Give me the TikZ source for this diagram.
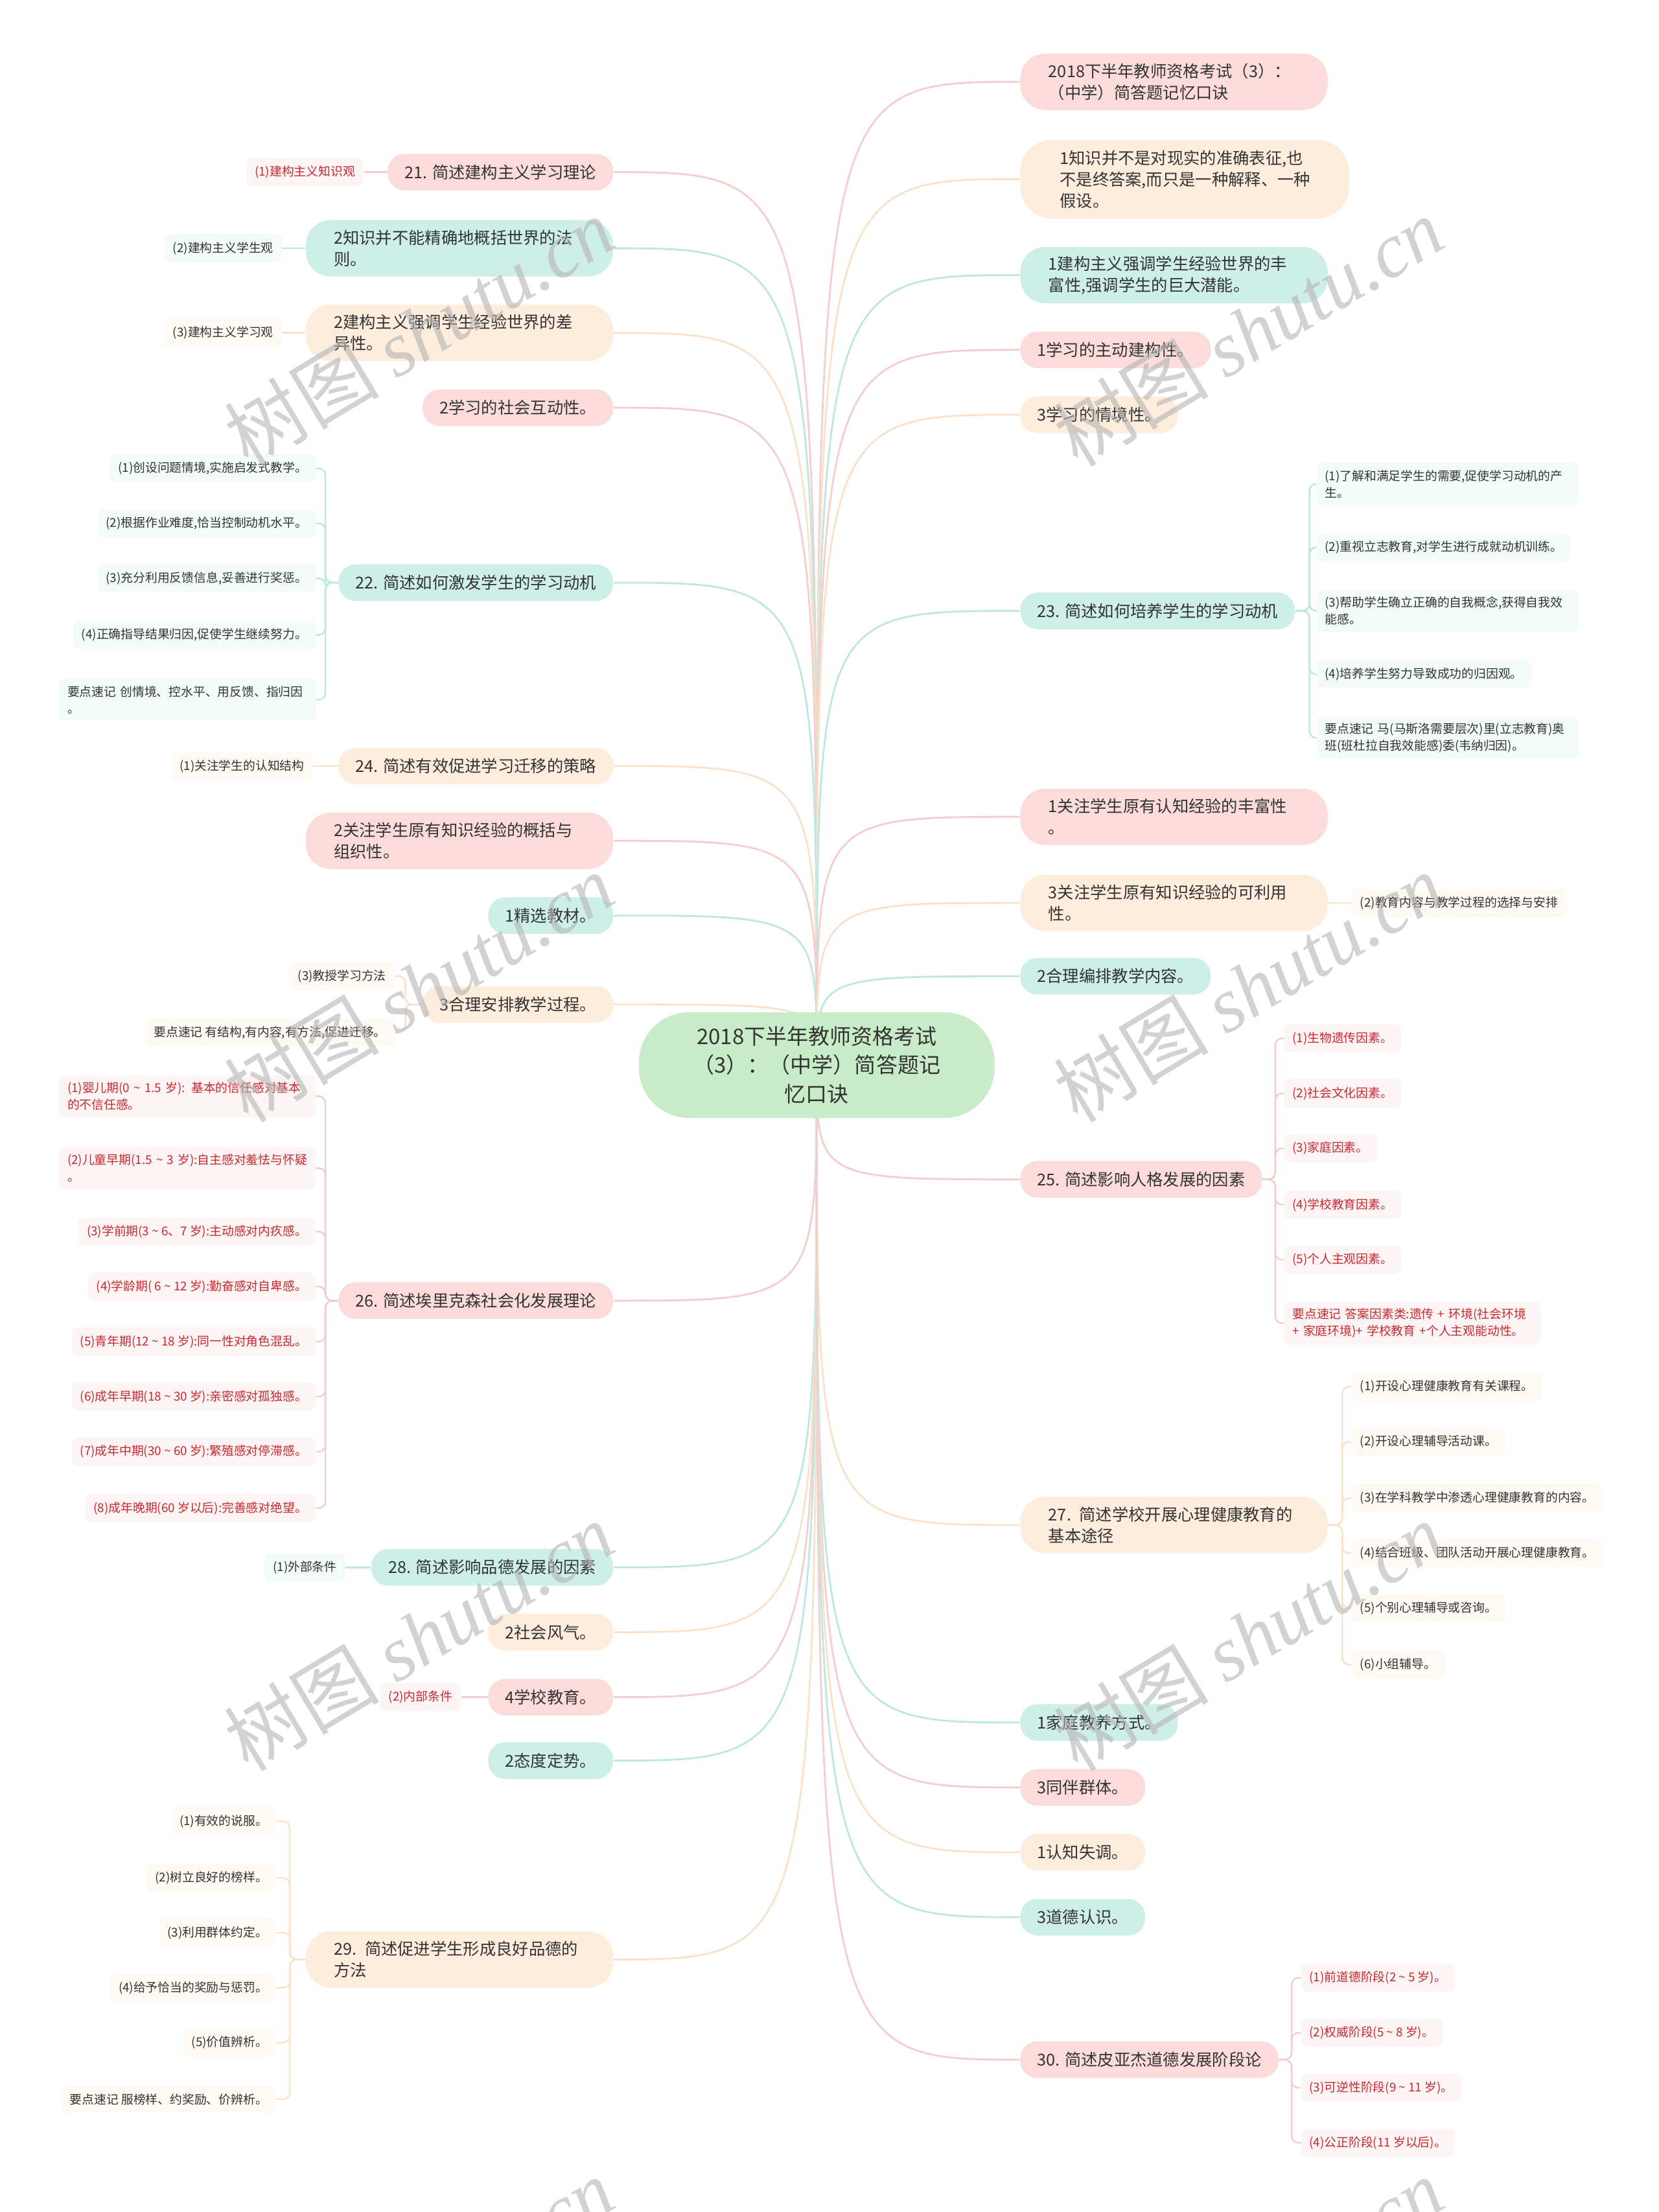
\documentclass[tikz,border=0pt]{standalone}
\usepackage{fontspec}
\setmainfont{Noto Sans CJK SC}
\newfontfamily\marcalatin{Liberation Serif}
\usetikzlibrary{backgrounds}

\definecolor{raiz}{HTML}{C8ECC8}
\definecolor{rosa}{HTML}{FBDCDB}
\definecolor{rosaline}{HTML}{F6CDCD}
\definecolor{rosaleaf}{HTML}{FDF5F5}
\definecolor{verde}{HTML}{CDEFE8}
\definecolor{verdeline}{HTML}{BCE8DF}
\definecolor{verdeleaf}{HTML}{F3FBF9}
\definecolor{melon}{HTML}{FEEDDD}
\definecolor{melonline}{HTML}{FAE2CA}
\definecolor{melonleaf}{HTML}{FEF9F3}
\definecolor{texto}{HTML}{333333}
\definecolor{rojo}{HTML}{C8282E}
\definecolor{marca}{HTML}{B4B4B4}

\newcommand\ola{\textasciitilde}

\begin{document}
\begin{tikzpicture}[
    x=0.02177cm, y=-0.02177cm,
    every node/.style={text=texto},
    root_node/.style={fill=raiz, rounded corners=22pt, minimum width=5.49cm, minimum height=1.63cm, align=center, font=\fontsize{9.4}{12.7}\selectfont},
    branch/.style={rounded corners=7.5pt, inner xsep=0.261cm, inner ysep=0pt, minimum height=0.566cm, font=\fontsize{7.2}{9.4}\selectfont},
    two_lines/.style={rounded corners=11pt, align=left, text width=3.875cm, inner xsep=0.435cm, minimum height=0.871cm},
    br_pink/.style={branch, fill=rosa},
    br_teal/.style={branch, fill=verde},
    br_peach/.style={branch, fill=melon},
    leaf/.style={rounded corners=2.5pt, inner xsep=0.13cm, inner ysep=0pt, minimum height=0.435cm, font=\fontsize{5.35}{7.4}\selectfont},
    leaf_two/.style={align=left, text width=3.70cm, minimum height=0.653cm},
    lf_pink/.style={leaf, fill=rosaleaf},
    lf_teal/.style={leaf, fill=verdeleaf},
    lf_peach/.style={leaf, fill=melonleaf},
    red_text/.style={text=rojo},
    conn/.style={line width=0.8pt},
    twig/.style={line width=0.7pt, rounded corners=3pt},
    water_mark/.style={text=marca, opacity=0.6, rotate=31, font=\fontsize{34}{34}\selectfont}
]
\useasboundingbox (0,0) rectangle (1176,1568);
\clip (0,0) rectangle (1176,1568);

% --- Nodo central ---
\node[root_node] (root) at (579,755) {2018下半年教师资格考试\\（3）：（中学）简答题记\\忆口诀};

% --- Ramas izquierdas ---
\node[br_pink, anchor=east] (L1) at (435,122) {21. 简述建构主义学习理论};
\node[br_teal, two_lines, anchor=east] (L2) at (435,176) {2知识并不能精确地概括世界的法\\则。};
\node[br_peach, two_lines, anchor=east] (L3) at (435,236) {2建构主义强调学生经验世界的差\\异性。};
\node[br_pink, anchor=east] (L4) at (435,289) {2学习的社会互动性。};
\node[br_teal, anchor=east] (L5) at (435,413) {22. 简述如何激发学生的学习动机};
\node[br_peach, anchor=east] (L6) at (435,543) {24. 简述有效促进学习迁移的策略};
\node[br_pink, two_lines, anchor=east] (L7) at (435,596) {2关注学生原有知识经验的概括与\\组织性。};
\node[br_teal, anchor=east] (L8) at (435,649) {1精选教材。};
\node[br_peach, anchor=east] (L9) at (435,712) {3合理安排教学过程。};
\node[br_pink, anchor=east] (L10) at (435,922) {26. 简述埃里克森社会化发展理论};
\node[br_teal, anchor=east] (L11) at (435,1111) {28. 简述影响品德发展的因素};
\node[br_peach, anchor=east] (L12) at (435,1157) {2社会风气。};
\node[br_pink, anchor=east] (L13) at (435,1203) {4学校教育。};
\node[br_teal, anchor=east] (L14) at (435,1248) {2态度定势。};
\node[br_peach, two_lines, anchor=east] (L15) at (435,1389) {29. 简述促进学生形成良好品德的\\方法};

% --- Ramas derechas ---
\node[br_pink, two_lines, anchor=west] (R1) at (723,58) {2018下半年教师资格考试（3）：\\（中学）简答题记忆口诀};
\node[br_peach, two_lines, anchor=west, rounded corners=14pt, inner xsep=0.61cm, text width=3.853cm, minimum height=1.219cm] (R2) at (723,127) {1知识并不是对现实的准确表征,也\\不是终答案,而只是一种解释、一种\\假设。};
\node[br_teal, two_lines, anchor=west] (R3) at (723,195) {1建构主义强调学生经验世界的丰\\富性,强调学生的巨大潜能。};
\node[br_pink, anchor=west] (R4) at (723,248) {1学习的主动建构性。};
\node[br_peach, anchor=west] (R5) at (723,294) {3学习的情境性。};
\node[br_teal, anchor=west] (R6) at (723,433) {23. 简述如何培养学生的学习动机};
\node[br_pink, two_lines, anchor=west] (R7) at (723,579) {1关注学生原有认知经验的丰富性\\。};
\node[br_peach, two_lines, anchor=west] (R8) at (723,640) {3关注学生原有知识经验的可利用\\性。};
\node[br_teal, anchor=west] (R9) at (723,692) {2合理编排教学内容。};
\node[br_pink, anchor=west] (R10) at (723,836) {25. 简述影响人格发展的因素};
\node[br_peach, two_lines, anchor=west] (R11) at (723,1081) {27. 简述学校开展心理健康教育的\\基本途径};
\node[br_teal, anchor=west] (R12) at (723,1221) {1家庭教养方式。};
\node[br_pink, anchor=west] (R13) at (723,1267) {3同伴群体。};
\node[br_peach, anchor=west] (R14) at (723,1313) {1认知失调。};
\node[br_teal, anchor=west] (R15) at (723,1359) {3道德认识。};
\node[br_pink, anchor=west] (R16) at (723,1460) {30. 简述皮亚杰道德发展阶段论};

% --- Hojas izquierdas ---
\node[lf_pink, red_text, anchor=east] (L1a) at (258,122) {(1)建构主义知识观};
\node[lf_teal, anchor=east] (L2a) at (200,176) {(2)建构主义学生观};
\node[lf_peach, anchor=east] (L3a) at (200,236) {(3)建构主义学习观};

\node[lf_teal, anchor=east] (L5a) at (224,332) {(1)创设问题情境,实施启发式教学。};
\node[lf_teal, anchor=east] (L5b) at (224,371) {(2)根据作业难度,恰当控制动机水平。};
\node[lf_teal, anchor=east] (L5c) at (224,410) {(3)充分利用反馈信息,妥善进行奖惩。};
\node[lf_teal, anchor=east] (L5d) at (224,450) {(4)正确指导结果归因,促使学生继续努力。};
\node[lf_teal, leaf_two, anchor=east] (L5e) at (224,496) {\mbox{要点速记 创情境、控水平、用反馈、指归因}\\。};

\node[lf_peach, anchor=east] (L6a) at (222,543) {(1)关注学生的认知结构};

\node[lf_peach, anchor=east] (L9a) at (280,692) {(3)教授学习方法};
\node[lf_peach, anchor=east] (L9b) at (280,732) {要点速记 有结构,有内容,有方法,促进迁移。};

\node[lf_pink, red_text, leaf_two, anchor=east] (L10a) at (224,777) {\mbox{(1)婴儿期(0 \ola{} 1.5 岁): 基本的信任感对基本}\\的不信任感。};
\node[lf_pink, red_text, leaf_two, anchor=east] (L10b) at (224,828) {\mbox{(2)儿童早期(1.5 \ola{} 3 岁):自主感对羞怯与怀疑}\\。};
\node[lf_pink, red_text, anchor=east] (L10c) at (224,873) {(3)学前期(3 \ola{} 6、7 岁):主动感对内疚感。};
\node[lf_pink, red_text, anchor=east] (L10d) at (224,912) {(4)学龄期( 6 \ola{} 12 岁):勤奋感对自卑感。};
\node[lf_pink, red_text, anchor=east] (L10e) at (224,951) {(5)青年期(12 \ola{} 18 岁):同一性对角色混乱。};
\node[lf_pink, red_text, anchor=east] (L10f) at (224,990) {(6)成年早期(18 \ola{} 30 岁):亲密感对孤独感。};
\node[lf_pink, red_text, anchor=east] (L10g) at (224,1029) {(7)成年中期(30 \ola{} 60 岁):繁殖感对停滞感。};
\node[lf_pink, red_text, anchor=east] (L10h) at (224,1069) {(8)成年晚期(60 岁以后):完善感对绝望。};

\node[lf_teal, anchor=east] (L11a) at (245,1111) {(1)外部条件};
\node[lf_pink, red_text, anchor=east] (L13a) at (327,1203) {(2)内部条件};

\node[lf_peach, anchor=east] (L15a) at (196,1291) {(1)有效的说服。};
\node[lf_peach, anchor=east] (L15b) at (196,1331) {(2)树立良好的榜样。};
\node[lf_peach, anchor=east] (L15c) at (196,1370) {(3)利用群体约定。};
\node[lf_peach, anchor=east] (L15d) at (196,1409) {(4)给予恰当的奖励与惩罚。};
\node[lf_peach, anchor=east] (L15e) at (196,1448) {(5)价值辨析。};
\node[lf_peach, anchor=east] (L15f) at (196,1488) {要点速记 服榜样、约奖励、价辨析。};

% --- Hojas derechas ---
\node[lf_teal, leaf_two, text width=3.79cm, anchor=west] (R6a) at (933,343) {\mbox{(1)了解和满足学生的需要,促使学习动机的产}\\生。};
\node[lf_teal, anchor=west] (R6b) at (933,388) {(2)重视立志教育,对学生进行成就动机训练。};
\node[lf_teal, leaf_two, text width=3.79cm, anchor=west] (R6c) at (933,433) {\mbox{(3)帮助学生确立正确的自我概念,获得自我效}\\能感。};
\node[lf_teal, anchor=west] (R6d) at (933,478) {(4)培养学生努力导致成功的归因观。};
\node[lf_teal, leaf_two, text width=3.79cm, anchor=west] (R6e) at (933,523) {\mbox{要点速记 马(马斯洛需要层次)里(立志教育)奥}\\班(班杜拉自我效能感)委(韦纳归因)。};

\node[lf_peach, anchor=west] (R8a) at (958,640) {(2)教育内容与教学过程的选择与安排};

\node[lf_pink, red_text, anchor=west] (R10a) at (910,736) {(1)生物遗传因素。};
\node[lf_pink, red_text, anchor=west] (R10b) at (910,775) {(2)社会文化因素。};
\node[lf_pink, red_text, anchor=west] (R10c) at (910,814) {(3)家庭因素。};
\node[lf_pink, red_text, anchor=west] (R10d) at (910,854) {(4)学校教育因素。};
\node[lf_pink, red_text, anchor=west] (R10e) at (910,893) {(5)个人主观因素。};
\node[lf_pink, red_text, leaf_two, anchor=west] (R10f) at (910,938) {\mbox{要点速记 答案因素类:遗传 + 环境(社会环境}\\\mbox{+ 家庭环境)+ 学校教育 +个人主观能动性。}};

\node[lf_peach, anchor=west] (R11a) at (958,983) {(1)开设心理健康教育有关课程。};
\node[lf_peach, anchor=west] (R11b) at (958,1022) {(2)开设心理辅导活动课。};
\node[lf_peach, anchor=west] (R11c) at (958,1062) {(3)在学科教学中渗透心理健康教育的内容。};
\node[lf_peach, anchor=west] (R11d) at (958,1101) {(4)结合班级、团队活动开展心理健康教育。};
\node[lf_peach, anchor=west] (R11e) at (958,1140) {(5)个别心理辅导或咨询。};
\node[lf_peach, anchor=west] (R11f) at (958,1180) {(6)小组辅导。};

\node[lf_pink, red_text, anchor=west] (R16a) at (922,1402) {(1)前道德阶段(2 \ola{} 5 岁)。};
\node[lf_pink, red_text, anchor=west] (R16b) at (922,1441) {(2)权威阶段(5 \ola{} 8 岁)。};
\node[lf_pink, red_text, anchor=west] (R16c) at (922,1480) {(3)可逆性阶段(9 \ola{} 11 岁)。};
\node[lf_pink, red_text, anchor=west] (R16d) at (922,1519) {(4)公正阶段(11 岁以后)。};

% --- Conexiones ---
\begin{scope}[on background layer]
\foreach \n/\c in {L1/rosaline, L2/verdeline, L3/melonline, L4/rosaline, L5/verdeline,
    L6/melonline, L7/rosaline, L8/verdeline, L9/melonline, L10/rosaline, L11/verdeline,
    L12/melonline, L13/rosaline, L14/verdeline, L15/melonline}
  \draw[conn, \c] (root.center) .. controls (root.center |- \n.east) .. (\n.east);
\foreach \n/\c in {R1/rosaline, R2/melonline, R3/verdeline, R4/rosaline, R5/melonline,
    R6/verdeline, R7/rosaline, R8/melonline, R9/verdeline, R10/rosaline, R11/melonline,
    R12/verdeline, R13/rosaline, R14/melonline, R15/verdeline, R16/rosaline}
  \draw[conn, \c] (root.center) .. controls (root.center |- \n.west) .. (\n.west);

% hojas sueltas
\draw[twig, rosaline] (L1.west) -- (L1a.east);
\draw[twig, verdeline] (L2.west) -- (L2a.east);
\draw[twig, melonline] (L3.west) -- (L3a.east);
\draw[twig, melonline] (L6.west) -- (L6a.east);
\draw[twig, verdeline] (L11.west) -- (L11a.east);
\draw[twig, rosaline] (L13.west) -- (L13a.east);
\draw[twig, melonline] (R8.east) -- (R8a.west);

% grupos con llave
\foreach \l in {L5a, L5b, L5c, L5d, L5e}
  \draw[twig, verdeline] (L5.west) -- ++(-9,0) |- (\l.east);
\foreach \l in {L9a, L9b}
  \draw[twig, melonline] (L9.west) -- ++(-12,0) |- (\l.east);
\foreach \l in {L10a, L10b, L10c, L10d, L10e, L10f, L10g, L10h}
  \draw[twig, rosaline] (L10.west) -- ++(-9,0) |- (\l.east);
\foreach \l in {L15a, L15b, L15c, L15d, L15e, L15f}
  \draw[twig, melonline] (L15.west) -- ++(-11,0) |- (\l.east);
\foreach \l in {R6a, R6b, R6c, R6d, R6e}
  \draw[twig, verdeline] (R6.east) -- ++(10,0) |- (\l.west);
\foreach \l in {R10a, R10b, R10c, R10d, R10e, R10f}
  \draw[twig, rosaline] (R10.east) -- ++(9,0) |- (\l.west);
\foreach \l in {R11a, R11b, R11c, R11d, R11e, R11f}
  \draw[twig, melonline] (R11.east) -- ++(10,0) |- (\l.west);
\foreach \l in {R16a, R16b, R16c, R16d}
  \draw[twig, rosaline] (R16.east) -- ++(9,0) |- (\l.west);
\end{scope}

% --- Marca de agua ---
\foreach \wx in {297, 885}
  \foreach \wy in {235, 700, 1160, 1625}
    \node[water_mark] (wm-\wx-\wy) at (\wx,\wy) {树图 {\marcalatin\itshape shutu.cn}};

\end{tikzpicture}
\end{document}
